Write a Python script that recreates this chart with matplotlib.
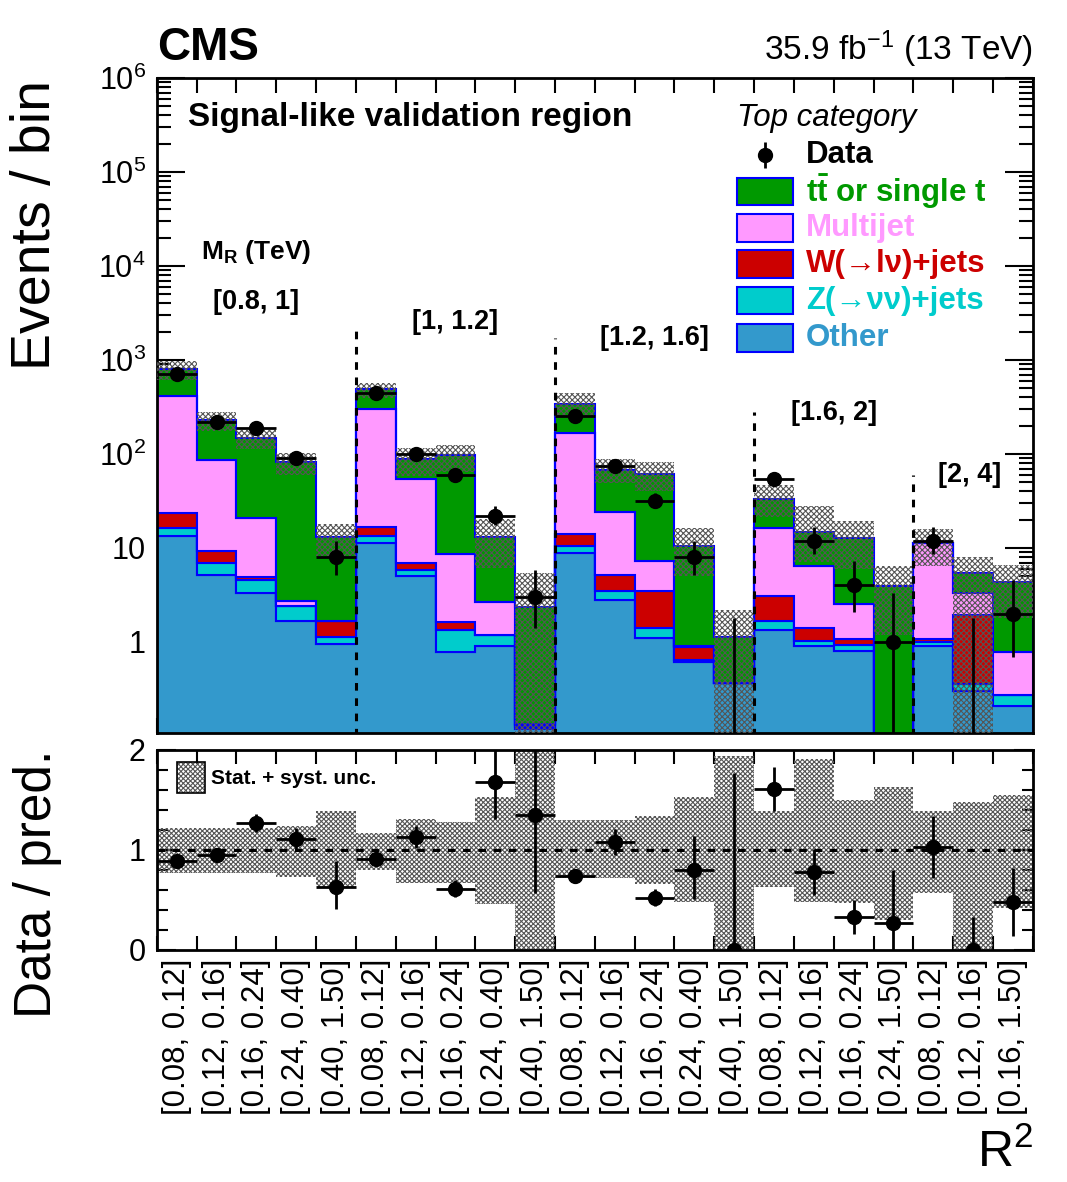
import numpy as np
import matplotlib
matplotlib.use("Agg")
import matplotlib.pyplot as plt
from matplotlib.patches import Rectangle
from matplotlib.ticker import FixedLocator, FixedFormatter, LogLocator, NullFormatter, MultipleLocator

plt.rcParams['font.family'] = ['Liberation Sans', 'DejaVu Sans']
plt.rcParams['mathtext.fontset'] = 'custom'
plt.rcParams['mathtext.rm'] = 'Liberation Sans'
plt.rcParams['mathtext.it'] = 'Liberation Sans:italic'
plt.rcParams['mathtext.bf'] = 'Liberation Sans:bold'
plt.rcParams['hatch.linewidth'] = 0.8

# ---- R^2 bins (22 bins in 5 M_R groups) ----
r2_labels = ["[0.08, 0.12]", "[0.12, 0.16]", "[0.16, 0.24]", "[0.24, 0.40]", "[0.40, 1.50]",
             "[0.08, 0.12]", "[0.12, 0.16]", "[0.16, 0.24]", "[0.24, 0.40]", "[0.40, 1.50]",
             "[0.08, 0.12]", "[0.12, 0.16]", "[0.16, 0.24]", "[0.24, 0.40]", "[0.40, 1.50]",
             "[0.08, 0.12]", "[0.12, 0.16]", "[0.16, 0.24]", "[0.24, 1.50]",
             "[0.08, 0.12]", "[0.12, 0.16]", "[0.16, 1.50]"]

mr_labels = ["[0.8, 1]", "[1, 1.2]", "[1.2, 1.6]", "[1.6, 2]", "[2, 4]"]
mr_label_x = [2.5, 7.5, 12.5, 17.0, 20.4]
mr_label_y = [4150, 2530, 1700, 270, 60]
group_edges = [5, 10, 15, 19]
group_line_top = [2350, 1700, 280, 60]

# ---- background yields per bin ----
other = [13.4, 5.16, 3.3, 1.67, 0.95, 11.4, 5.0, 0.78, 0.91, 0.12, 8.9,
         2.8, 1.11, 0.61, 0.37, 1.34, 0.9, 0.81, 0.0, 0.9, 0.3, 0.21]
zjets = [3.0, 1.74, 1.27, 0.73, 0.18, 2.0, 0.8, 0.56, 0.28, 0.005, 1.6,
         0.7, 0.29, 0.04, 0.0, 0.35, 0.13, 0.12, 0.0, 0.1, 0.06, 0.06]
wjets = [7.2, 2.4, 0.3, 0.0, 0.54, 3.5, 1.07, 0.3, 0.0, 0.005, 3.5,
         1.66, 2.09, 0.24, 0.0, 1.42, 0.37, 0.15, 0.0, 0.07, 1.58, 0.0]
multijet = [390, 76.7, 15.9, 0.33, 0.01, 282, 46.9, 6.93, 1.49, 0.005, 155,
            18.8, 3.81, 0.01, 0.0, 13.3, 5.0, 1.46, 0.0, 10.1, 1.41, 0.52]
ttbar = [388, 143, 127, 79.3, 11.4, 189, 34.2, 88.4, 10.5, 2.2, 171,
         44, 53.7, 9.7, 0.75, 17.2, 8.4, 10.3, 3.95, 0.2, 2.11, 3.51]

# ---- data ----
data = [710, 219, 189, 91, 8, 449, 100, 60, 22, 3, 254,
        74, 32, 8, 0, 54, 12, 4, 1, 12, 0, 2]
data_err_lo = [27, 15, 14, 9.5, 2.8, 21, 10, 7.7, 4.6, 1.6, 16,
               8.6, 5.6, 2.8, 0, 7.3, 3.4, 1.9, 1.0, 3.4, 0, 1.3]
data_err_hi = [28, 16, 15, 10.6, 4.0, 22, 11, 8.8, 5.7, 2.9, 17,
               9.6, 6.7, 4.0, 1.8, 8.4, 4.6, 3.2, 2.3, 4.6, 1.8, 2.6]

# ---- ratio panel ----
ratio = [0.89, 0.95, 1.27, 1.11, 0.63, 0.91, 1.13, 0.61, 1.68, 1.35, 0.74,
         1.08, 0.52, 0.80, 0.0, 1.61, 0.78, 0.33, 0.27, 1.03, 0.0, 0.48]
ratio_err_lo = [0.03, 0.06, 0.09, 0.11, 0.22, 0.05, 0.11, 0.08, 0.37, 0.78, 0.05,
                0.13, 0.08, 0.29, 0.0, 0.22, 0.23, 0.17, 0.27, 0.31, 0.0, 0.34]
ratio_err_hi = [0.03, 0.07, 0.09, 0.11, 0.26, 0.05, 0.11, 0.09, 0.45, 1.3, 0.05,
                0.13, 0.09, 0.34, 1.77, 0.22, 0.23, 0.17, 0.53, 0.31, 0.33, 0.34]
band_lo = [0.77, 0.77, 0.77, 0.73, 0.63, 0.80, 0.67, 0.67, 0.46, 0.0, 0.72,
           0.72, 0.66, 0.48, 0.0, 0.63, 0.48, 0.47, 0.30, 0.57, 0.0, 0.42]
band_hi = [1.22, 1.22, 1.22, 1.24, 1.39, 1.17, 1.31, 1.28, 1.53, 2.3, 1.30,
           1.30, 1.34, 1.53, 1.94, 1.39, 1.91, 1.50, 1.63, 1.39, 1.48, 1.55]

# stack order bottom -> top
processes = [
    ("Other", other, "#3399cc"),
    ("Z(→νν)+jets", zjets, "#00cccc"),
    ("W(→lν)+jets", wjets, "#cc0000"),
    ("Multijet", multijet, "#ff99ff"),
    (r"$\mathbf{t\bar{t}}$ or single t", ttbar, "#009900"),
]

nb = len(data)
edges = np.arange(nb + 1)
centers = edges[:-1] + 0.5
floor = 1e-3

fig = plt.figure(figsize=(10.67, 11.82), dpi=100)
ax = fig.add_axes([0.147, 0.380, 0.821, 0.554])
rax = fig.add_axes([0.147, 0.1963, 0.821, 0.1692])

# ---- stacked backgrounds ----
bottom = np.zeros(nb)
for name, vals, col in processes:
    top = bottom + np.array(vals)
    ax.stairs(np.maximum(top, floor), edges, baseline=np.maximum(bottom, floor),
              fill=True, facecolor=col, edgecolor="#0000ff", linewidth=1.5, zorder=2)
    bottom = top
pred = bottom

# uncertainty band
ax.stairs(np.maximum(pred * np.array(band_hi), floor), edges,
          baseline=np.maximum(pred * np.array(band_lo), floor),
          fill=True, facecolor="none", edgecolor="#555555", hatch="xxxxxx",
          linewidth=0, zorder=3)

# group separators
for xg, yt in zip(group_edges, group_line_top):
    ax.plot([xg, xg], [0.1, yt], color="black", ls=(0, (2.5, 2.5)), lw=2.2, zorder=4)
for lab, xl, yl in zip(mr_labels, mr_label_x, mr_label_y):
    ax.text(xl, yl, lab, ha="center", va="center", fontsize=19.5, fontweight="bold")
ax.text(2.5, 14000, r"$\mathbf{M_R}$ (TeV)", ha="center", va="center",
        fontsize=19, fontweight="bold")

# data points
d = np.array(data, dtype=float)
nz = d > 0
ax.errorbar(centers[nz], d[nz], xerr=0.5,
            yerr=[np.array(data_err_lo)[nz], np.array(data_err_hi)[nz]],
            fmt="o", color="black", ms=10, elinewidth=2, capsize=0, zorder=5)
ax.errorbar(centers[~nz], np.full((~nz).sum(), 1e-3),
            yerr=[np.zeros((~nz).sum()), np.array(data_err_hi)[~nz]],
            fmt="none", ecolor="black", elinewidth=2, capsize=0, zorder=5)

ax.set_yscale("log")
ax.set_xlim(0, nb)
ax.set_ylim(0.108, 1e6)
ax.xaxis.set_major_locator(FixedLocator(edges))
ax.xaxis.set_major_formatter(NullFormatter())
ax.yaxis.set_major_locator(FixedLocator([1, 10, 100, 1e3, 1e4, 1e5, 1e6]))
ax.yaxis.set_major_formatter(FixedFormatter(["1", "10", r"$10^{2}$", r"$10^{3}$",
                                             r"$10^{4}$", r"$10^{5}$", r"$10^{6}$"]))
ax.yaxis.set_minor_locator(LogLocator(base=10, subs=np.arange(2, 10), numticks=20))
ax.yaxis.set_minor_formatter(NullFormatter())
ax.tick_params(axis="x", which="major", direction="in", length=11, width=1.5, top=True, bottom=True)
ax.tick_params(axis="y", which="major", direction="in", length=20, width=1.5, left=True, right=True,
               labelsize=22, pad=8)
ax.tick_params(axis="y", which="minor", direction="in", length=10, width=1.5, left=True, right=True)
for s in ax.spines.values():
    s.set_linewidth(2)
ax.set_ylabel("Events / bin", fontsize=40)
ax.yaxis.set_label_coords(-0.108, 0.775)

# texts
ax.text(0.0, 1.012, "CMS", transform=ax.transAxes, fontsize=33, fontweight="bold",
        ha="left", va="bottom")
ax.text(1.0, 1.012, r"35.9 fb$^{-1}$ (13 TeV)", transform=ax.transAxes, fontsize=24,
        ha="right", va="bottom")
ax.text(0.035, 0.939, "Signal-like validation region", transform=ax.transAxes,
        fontsize=24, fontweight="bold", ha="left", va="center")

# legend (drawn by hand, ROOT-like)
ax.text(0.662, 0.939, "Top category", transform=ax.transAxes, fontsize=22.5,
        style="italic", ha="left", va="center")
row_y = [0.882, 0.827, 0.771, 0.716, 0.660, 0.603]
ax.errorbar([0.694], [row_y[0]], yerr=[[0.02]], fmt="o", color="black", ms=10,
            elinewidth=2, capsize=0, transform=ax.transAxes, clip_on=False, zorder=6)
ax.text(0.741, row_y[0], "Data", transform=ax.transAxes, fontsize=22.5,
        fontweight="bold", ha="left", va="center")
for (name, vals, col), yy in zip(processes[::-1], row_y[1:]):
    ax.add_patch(Rectangle((0.662, yy - 0.021), 0.064, 0.042, transform=ax.transAxes,
                           facecolor=col, edgecolor="#0000ff", linewidth=1.5, zorder=6))
    ax.text(0.741, yy, name, transform=ax.transAxes, fontsize=22.5, fontweight="bold",
            color=col, ha="left", va="center", zorder=6)

# ---- ratio panel ----
rax.stairs(np.array(band_hi), edges, baseline=np.array(band_lo), fill=True,
           facecolor="none", edgecolor="#555555", hatch="xxxxxxx", linewidth=0, zorder=2)
rax.axhline(1.0, color="black", ls=(0, (2.5, 2.5)), lw=2.2, zorder=3)
rax.errorbar(centers, ratio, xerr=np.where(nz, 0.5, 0.0), yerr=[ratio_err_lo, ratio_err_hi],
             fmt="o", color="black", ms=10, elinewidth=2, capsize=0, zorder=5, clip_on=True)
rax.set_xlim(0, nb)
rax.set_ylim(0, 2)
rax.xaxis.set_major_locator(FixedLocator(edges))
rax.xaxis.set_major_formatter(NullFormatter())
rax.xaxis.set_minor_locator(FixedLocator(centers))
rax.xaxis.set_minor_formatter(FixedFormatter(r2_labels))
rax.tick_params(axis="x", which="major", direction="in", length=10, width=1.5, top=True, bottom=True)
rax.tick_params(axis="x", which="minor", length=0, labelsize=22.5, labelrotation=90, pad=6)
rax.yaxis.set_major_locator(FixedLocator([0, 1, 2]))
rax.yaxis.set_minor_locator(MultipleLocator(0.2))
rax.tick_params(axis="y", which="major", direction="in", length=14, width=1.5, left=True, right=True,
                labelsize=22, pad=8)
rax.tick_params(axis="y", which="minor", direction="in", length=8, width=1.5, left=True, right=True)
for s in rax.spines.values():
    s.set_linewidth(2)
rax.set_ylabel("Data / pred.", fontsize=37)
rax.yaxis.set_label_coords(-0.108, 0.33)

rax.add_patch(Rectangle((0.023, 0.785), 0.032, 0.155, transform=rax.transAxes,
                        facecolor="none", edgecolor="#555555", hatch="xxxxxxx", lw=0, zorder=6))
rax.add_patch(Rectangle((0.023, 0.785), 0.032, 0.155, transform=rax.transAxes,
                        facecolor="none", edgecolor="black", lw=1.2, zorder=6))
rax.text(0.062, 0.855, "Stat. + syst. unc.", transform=rax.transAxes, fontsize=15,
         fontweight="bold", ha="left", va="center")

fig.text(0.968, 0.004, r"R$^{2}$", fontsize=36, ha="right", va="bottom")

fig.savefig("out.png", dpi=100)
